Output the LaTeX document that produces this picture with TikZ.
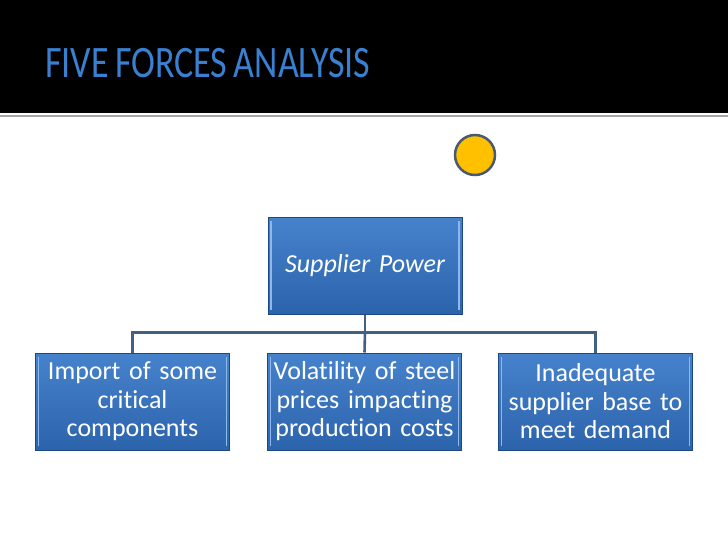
\documentclass[tikz,border=0pt]{standalone}
\usepackage{fontspec}
\setmainfont[Ligatures=NoCommon, WordSpace=0.8]{Carlito}
\usepackage{tikz}
\usetikzlibrary{calc}

\definecolor{titleblue}{RGB}{58,128,208}
\definecolor{boxtop}{RGB}{70,130,204}
\definecolor{boxbot}{RGB}{44,100,172}
\definecolor{boxedge}{RGB}{30,72,130}
\definecolor{bevel}{RGB}{140,185,235}
\definecolor{linkgray}{RGB}{66,96,128}
\definecolor{sun}{RGB}{255,192,0}
\definecolor{sunedge}{RGB}{74,90,110}

\begin{document}
\begin{tikzpicture}[x=1pt, y=-1pt,
    force/.style={rectangle, draw=boxedge, line width=1pt,
        top color=boxtop, bottom color=boxbot, text=white,
        minimum width=194pt, minimum height=97pt, text width=192pt,
        align=center, inner sep=1pt,
        font=\fontsize{26}{28.5}\selectfont,
        path picture={
            \draw[bevel, line width=1.2pt]
                ([xshift=3pt,yshift=-4pt]path picture bounding box.north west) --
                ([xshift=3pt,yshift=4pt]path picture bounding box.south west);
            \draw[bevel, line width=1.2pt]
                ([xshift=-3pt,yshift=-4pt]path picture bounding box.north east) --
                ([xshift=-3pt,yshift=4pt]path picture bounding box.south east);}},
    link/.style={draw=linkgray, line width=2.6pt}]
    \useasboundingbox (0,0) rectangle (728,546);
    % header band
    \fill[black] (0,0) rectangle (728,113);
    \draw[gray!70, line width=2pt] (0,116) -- (728,116);
    \node[anchor=base west, text=titleblue, inner sep=0pt,
        font=\fontsize{45}{45}\selectfont] (title) at (45,77)
        {\scalebox{0.8}[1]{FIVE FORCES ANALYSIS}};
    \node[circle, draw=sunedge, line width=2.5pt, fill=sun,
        minimum size=40pt, inner sep=0pt] (dot) at (475,155) {};
    % boxes
    \node[force, font=\fontsize{26}{28}\selectfont\itshape] (sp) at (365,265.5) {Supplier Power};
    \node[force] (imp) at (132.5,401.5) {Import of some\\critical\\components};
    \node[force] (vol) at (364.5,401.5) {Volatility of steel\\prices impacting\\production costs};
    \node[force] (inad) at (595.5,401.5) {Inadequate\\supplier base to\\meet demand};
    % connectors
    \draw[link] (sp.south) -- ++(0,18) coordinate (bar) -| (imp.north);
    \draw[link] (bar) -| (inad.north);
    \draw[link] (bar) -- (vol.north);
\end{tikzpicture}
\end{document}
